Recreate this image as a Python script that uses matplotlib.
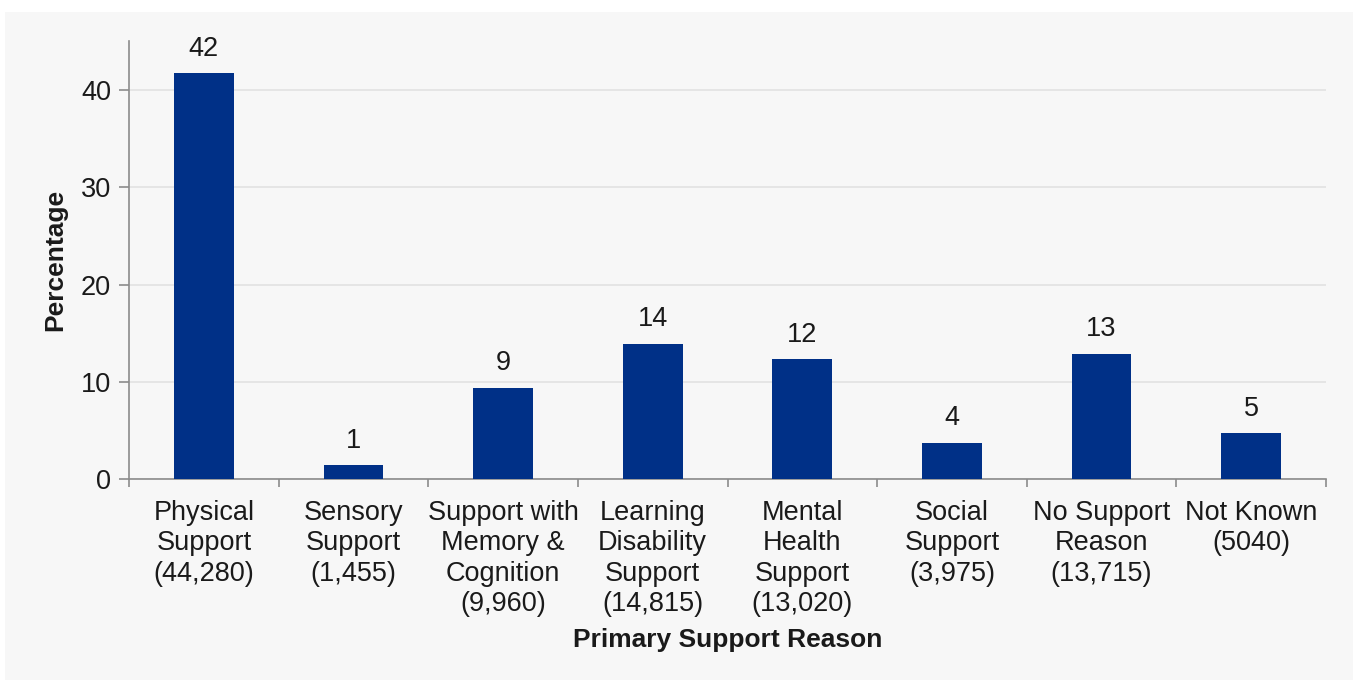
import matplotlib.pyplot as plt
import numpy as np
from matplotlib.patches import Rectangle

# data
categories = ['Physical\nSupport\n(44,280)', 'Sensory\nSupport\n(1,455)',
              'Support with\nMemory &\nCognition\n(9,960)',
              'Learning\nDisability\nSupport\n(14,815)',
              'Mental\nHealth\nSupport\n(13,020)', 'Social\nSupport\n(3,975)',
              'No Support\nReason\n(13,715)', 'Not Known\n(5040)']
percentages = [41.7, 1.4, 9.4, 13.9, 12.3, 3.7, 12.9, 4.7]
bar_labels = ['42', '1', '9', '14', '12', '4', '13', '5']

plt.rcParams['font.family'] = ['Liberation Sans', 'DejaVu Sans']
text_color = '#1a1a1a'
panel = '#f7f7f7'
fs = 19.5

fig = plt.figure(figsize=(13.53, 6.8), dpi=100)
fig.patch.set_facecolor('white')
fig.patches.append(Rectangle((5 / 1353, 0), 1, 668 / 680, transform=fig.transFigure,
                             facecolor=panel, edgecolor='none', zorder=-10))

ax = fig.add_axes([129 / 1353, 1 - 479 / 680, (1326 - 129) / 1353, (479 - 41.4) / 680])
ax.set_facecolor(panel)

x = np.arange(len(categories))
ax.bar(x, percentages, width=0.4, color='#003087', zorder=3)
for xi, v, lab in zip(x, percentages, bar_labels):
    ax.text(xi, v + 1.2, lab, ha='center', va='bottom', fontsize=fs, color=text_color)

ax.set_xlim(-0.5, len(categories) - 0.5)
ax.set_ylim(0, 45)
ax.set_yticks([0, 10, 20, 30, 40])
ax.yaxis.grid(True, color='#e2e2e2', linewidth=1.2, zorder=0)

ax.set_xticks(x)
ax.set_xticklabels(categories, linespacing=1.22)
ax.set_xticks(np.arange(-0.5, len(categories)), minor=True)
ax.tick_params(axis='x', which='major', length=0, pad=15, labelsize=fs, labelcolor=text_color)
ax.tick_params(axis='x', which='minor', length=6, color='#8c8c8c', width=1.2)
ax.tick_params(axis='y', length=7, color='#8c8c8c', width=1.2, pad=6,
               labelsize=fs, labelcolor=text_color)

for s in ['top', 'right']:
    ax.spines[s].set_visible(False)
for s in ['left', 'bottom']:
    ax.spines[s].set_color('#8c8c8c')
    ax.spines[s].set_linewidth(1.2)

ax.set_ylabel('Percentage', fontsize=19, fontweight='bold', color=text_color, labelpad=10)
ax.set_xlabel('Primary Support Reason', fontsize=19, fontweight='bold', color=text_color,
              labelpad=8)

fig.savefig('out.png', dpi=100)
